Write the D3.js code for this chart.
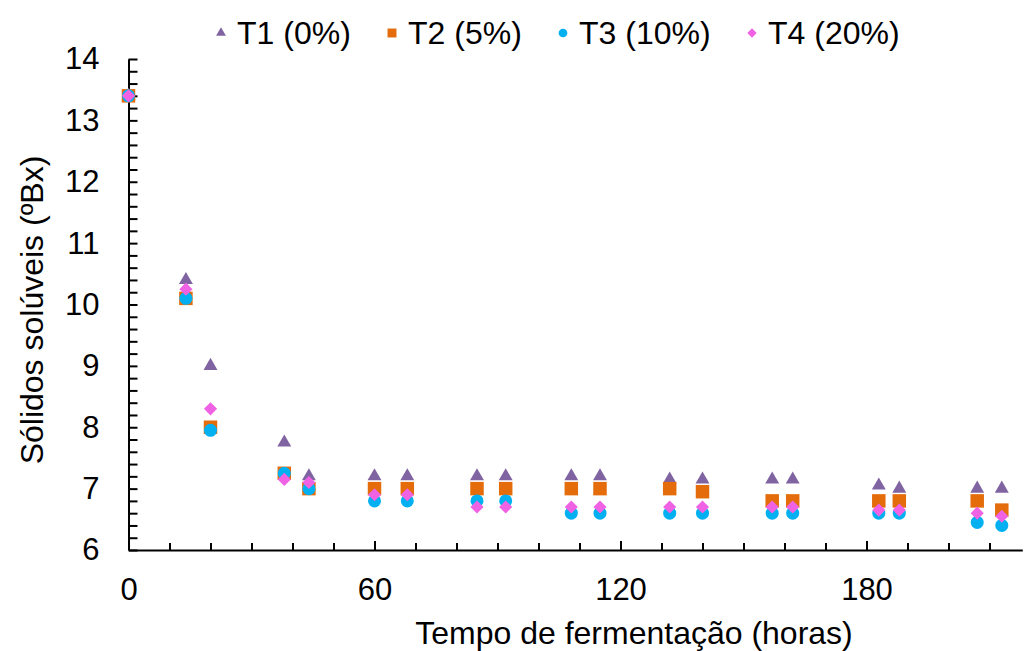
<!DOCTYPE html>
<html>
<head>
<meta charset="utf-8">
<script src="https://cdn.jsdelivr.net/npm/d3@7/dist/d3.min.js"></script>
<style>
  body { margin: 0; background: #fff; }
  svg { display: block; font-family: "Liberation Sans", Arial, sans-serif; }
  .axis path, .axis line { stroke: #000; stroke-width: 2; }
  .axis text { font-size: 31px; fill: #000; }
</style>
</head>
<body>
<svg id="chart" width="1024" height="651"></svg>
<script>
(function() {
  // horas de fermentação
  var hours = [0, 14, 20, 38, 44, 60, 68, 85, 92, 108, 115, 132, 140, 157, 162, 183, 188, 207, 213];

  var t1 = [13.4, 10.4, 9.0, 7.75, 7.2, 7.2, 7.2, 7.2, 7.2, 7.2, 7.2, 7.15, 7.15, 7.15, 7.15, 7.05, 7.0, 7.0, 7.0];
  var t2 = [13.4, 10.1, 8.0, 7.25, 7.0, 7.0, 7.0, 7.0, 7.0, 7.0, 7.0, 7.0, 6.95, 6.8, 6.8, 6.8, 6.8, 6.8, 6.65];
  var t3 = [13.4, 10.1, 7.95, 7.25, 7.0, 6.8, 6.8, 6.8, 6.8, 6.6, 6.6, 6.6, 6.6, 6.6, 6.6, 6.6, 6.6, 6.45, 6.4];
  var t4 = [13.4, 10.25, 8.3, 7.15, 7.1, 6.9, 6.9, 6.7, 6.7, 6.7, 6.7, 6.7, 6.7, 6.7, 6.7, 6.65, 6.65, 6.6, 6.55];

  var seriesNames = ['T1 (0%)', 'T2 (5%)', 'T3 (10%)', 'T4 (20%)'];
  var xTicks = [0, 60, 120, 180];
  var yTicks = [6, 7, 8, 9, 10, 11, 12, 13, 14];

  var svg = d3.select('#chart');

  var x = d3.scaleLinear().domain([0, 218]).range([128.5, 1022.3]);
  var y = d3.scaleLinear().domain([6, 14]).range([550, 59]);

  var diamond = {
    draw: function(context, size) {
      var r = Math.sqrt(size / 2);
      context.moveTo(0, -r);
      context.lineTo(r, 0);
      context.lineTo(0, r);
      context.lineTo(-r, 0);
      context.closePath();
    }
  };

  var styles = [
    { values: t1, color: '#8064A2', type: d3.symbolTriangle, size: 84, legendSize: 42 },
    { values: t2, color: '#E46C0A', type: d3.symbolSquare, size: 182, legendSize: 80 },
    { values: t3, color: '#00B0F0', type: d3.symbolCircle, size: 133, legendSize: 60 },
    { values: t4, color: '#F062E4', type: diamond, size: 86, legendSize: 44 }
  ];

  // minor ticks
  var minorX = d3.range(0, 219, 10).filter(function(d) { return d % 60 !== 0; });
  var minorY = d3.range(6, 14.01, 0.2).map(function(d) { return +d.toFixed(1); })
    .filter(function(d) { return d % 1 !== 0; });

  svg.append('g')
    .attr('class', 'axis')
    .attr('transform', 'translate(0,550)')
    .call(d3.axisBottom(x).tickValues(minorX).tickSize(-7).tickSizeOuter(0).tickFormat(''))
    .select('.domain').remove();

  svg.append('g')
    .attr('class', 'axis')
    .attr('transform', 'translate(128.5,0)')
    .call(d3.axisLeft(y).tickValues(minorY).tickSize(-9).tickSizeOuter(0).tickFormat(''))
    .select('.domain').remove();

  svg.append('g')
    .attr('class', 'axis')
    .attr('transform', 'translate(0,550)')
    .call(d3.axisBottom(x).tickValues(xTicks).tickSize(-9).tickSizeOuter(0).tickPadding(28));

  svg.append('g')
    .attr('class', 'axis')
    .attr('transform', 'translate(128.5,0)')
    .call(d3.axisLeft(y).tickValues(yTicks).tickSize(-9).tickSizeOuter(0).tickPadding(29));

  svg.selectAll('.axis .tick text').attr('font-family', '"Liberation Sans", Arial, sans-serif');

  // pontos
  styles.forEach(function(s) {
    svg.append('g')
      .selectAll('path')
      .data(s.values)
      .enter().append('path')
        .attr('transform', function(d, i) { return 'translate(' + x(hours[i]) + ',' + y(d) + ')'; })
        .attr('d', d3.symbol().type(s.type).size(s.size))
        .attr('fill', s.color);
  });

  // títulos
  svg.append('text')
    .attr('x', 634)
    .attr('y', 644)
    .attr('text-anchor', 'middle')
    .attr('font-size', 32)
    .text('Tempo de fermentação (horas)');

  svg.append('text')
    .attr('transform', 'translate(43,310) rotate(-90)')
    .attr('text-anchor', 'middle')
    .attr('font-size', 32)
    .text('Sólidos solúveis (ºBx)');

  // legenda
  var legendX = [221, 392, 563, 752];
  var legend = svg.append('g');
  styles.forEach(function(s, i) {
    legend.append('path')
      .attr('transform', 'translate(' + legendX[i] + ',33)')
      .attr('d', d3.symbol().type(s.type).size(s.legendSize))
      .attr('fill', s.color);
    legend.append('text')
      .attr('x', legendX[i] + 16)
      .attr('y', 44)
      .attr('font-size', 32)
      .text(seriesNames[i]);
  });
})();
</script>
</body>
</html>
